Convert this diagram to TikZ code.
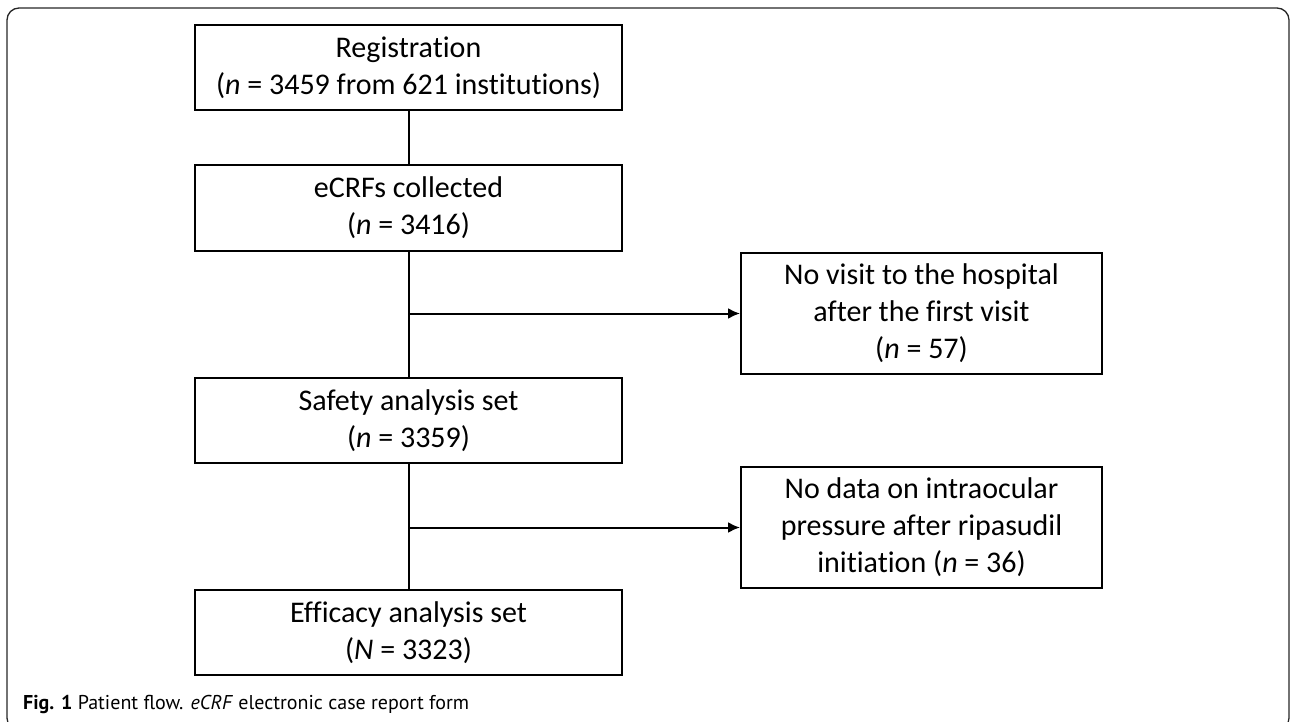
\documentclass[tikz,border=0pt]{standalone}
\usepackage{fontspec}
\setmainfont{Carlito}[RawFeature=-liga]
\newfontfamily\capfont{PT Sans}
\usetikzlibrary{arrows.meta}
\begin{document}
\begin{tikzpicture}[x=1pt,y=-1pt,
  box/.style={draw=black,line width=2pt,rectangle,align=center,inner sep=0pt,
    font=\fontsize{30}{37}\selectfont},
  lbox/.style={box,minimum width=427pt,minimum height=85pt},
  rbox/.style={box,minimum width=361pt,minimum height=121pt},
  conn/.style={line width=2pt},
  arr/.style={conn,-{Latex[length=12pt,width=11pt]}}]
\useasboundingbox (0,0) rectangle (1292,722);
\draw[line width=1.3pt,draw=black!85,rounded corners=12pt] (7,8) rectangle (1289,730);
\node[lbox] (b1) at (408.5,67.5) {Registration\\(\textit{n} = 3459 from 621 institutions)};
\node[lbox] (b2) at (408.5,208) {eCRFs collected\\(\textit{n} = 3416)};
\node[lbox] (b4) at (408.5,420.5) {Safety analysis set\\(\textit{n} = 3359)};
\node[lbox] (b6) at (408.5,632.5) {Efficacy analysis set\\(\textit{N} = 3323)};
\node[rbox] (b3) at (921.5,313.5) {No visit to the hospital\\after the first visit\\(\textit{n} = 57)};
\node[rbox] (b5) at (921.5,527.5) {No data on intraocular\\pressure after ripasudil\\initiation (\textit{n} = 36)};
\coordinate (j1) at (408.5,313.5);
\coordinate (j2) at (408.5,527.5);
\draw[conn] (b1) -- (b2);
\draw[conn] (b2) -- (b4);
\draw[conn] (b4) -- (b6);
\draw[arr] (j1) -- (b3.west);
\draw[arr] (j2) -- (b5.west);
\node[anchor=base west,inner sep=0pt,font=\capfont\fontsize{20}{24}\selectfont] (cap) at (23,709)
  {\textbf{Fig. 1} Patient flow. \textit{eCRF} electronic case report form};
\end{tikzpicture}
\end{document}
